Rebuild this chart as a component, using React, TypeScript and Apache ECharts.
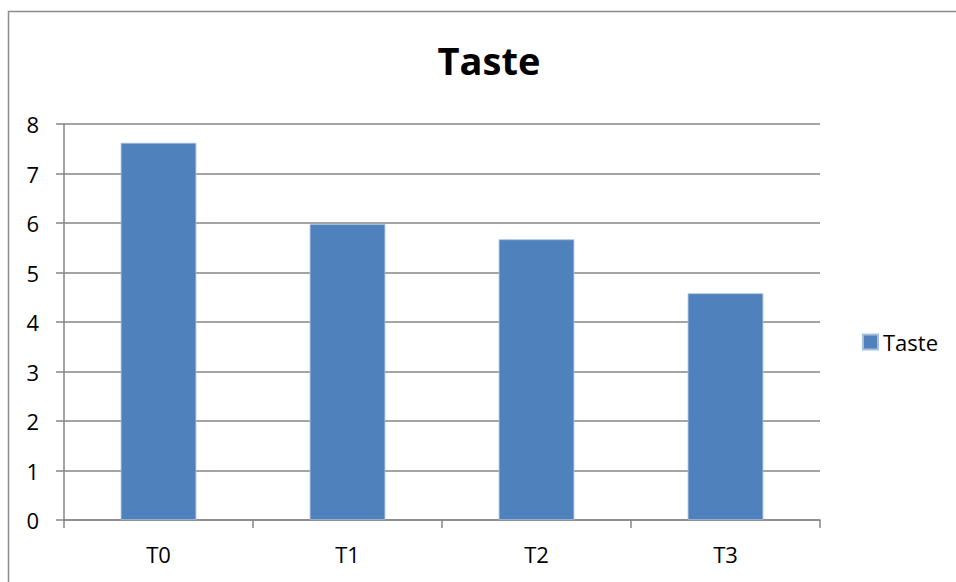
import React, { useEffect, useRef } from "react";
import * as echarts from "echarts";

const categories = ["T0", "T1", "T2", "T3"];
const tasteValues = [7.62, 5.98, 5.67, 4.58];
const yTicks = [0, 1, 2, 3, 4, 5, 6, 7, 8];
const seriesName = "Taste";
const titleText = "Taste";

export default function App() {
  const ref = useRef<HTMLDivElement>(null);
  useEffect(() => {
    if (!ref.current) return;
    const chart = echarts.init(ref.current, null, { renderer: "svg" });
    const font = "'Open Sans', 'Noto Sans', sans-serif";
    chart.setOption({
      animation: false,
      backgroundColor: "#ffffff",
      title: {
        text: titleText,
        left: 484,
        textAlign: "center",
        top: 36,
        textStyle: { fontFamily: font, fontSize: 38, fontWeight: "bold", color: "#000" },
      },
      legend: {
        data: [seriesName],
        left: 857,
        top: 326,
        itemWidth: 15,
        itemHeight: 15,
        itemGap: 7,
        icon: "rect",
        textStyle: { fontFamily: font, fontSize: 22, color: "#000" },
      },
      grid: { left: 64, top: 124, right: 136, bottom: 62, containLabel: false },
      xAxis: {
        type: "category",
        data: categories,
        axisLine: { lineStyle: { color: "#868686", width: 1.5 } },
        axisTick: { show: true, length: 8, alignWithLabel: false, lineStyle: { color: "#868686", width: 1.5 } },
        axisLabel: { fontFamily: font, fontSize: 22, color: "#000", margin: 23 },
      },
      yAxis: {
        type: "value",
        min: yTicks[0],
        max: yTicks[yTicks.length - 1],
        interval: 1,
        axisLine: { show: true, lineStyle: { color: "#868686", width: 1.5 } },
        axisTick: { show: true, length: 8, lineStyle: { color: "#868686", width: 1.5 } },
        axisLabel: { fontFamily: font, fontSize: 22, color: "#000", margin: 25 },
        splitLine: { show: true, lineStyle: { color: "#868686", width: 1.5 } },
      },
      series: [
        {
          name: seriesName,
          type: "bar",
          data: tasteValues,
          barWidth: "40%",
          itemStyle: { color: "#4F81BD", borderColor: "#A7BFDE", borderWidth: 0.8 },
        },
      ],
      graphic: [
        {
          type: "polyline",
          shape: { points: [[8.5, 600], [8.5, 11.5], [970, 11.5]] },
          style: { fill: "none", stroke: "#8c8c8c", lineWidth: 1.5 },
          silent: true,
        },
      ],
    });
    return () => chart.dispose();
  }, []);
  return (
    <div
      ref={ref}
      style={{ position: "absolute", left: 0, top: 0, width: 956, height: 582 }}
    />
  );
}
